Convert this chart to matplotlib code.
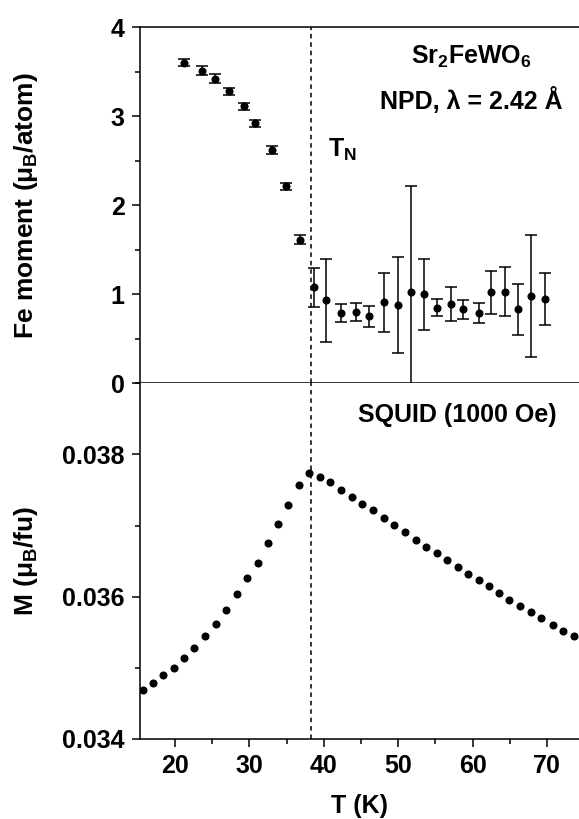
import matplotlib
matplotlib.use('Agg')
import matplotlib.pyplot as plt
from matplotlib.ticker import MultipleLocator

plt.rcParams['font.family'] = ['Liberation Sans', 'DejaVu Sans']
plt.rcParams['font.weight'] = 'bold'
plt.rcParams['axes.labelweight'] = 'bold'
plt.rcParams['mathtext.fontset'] = 'custom'
plt.rcParams['mathtext.rm'] = 'Liberation Sans:bold'
plt.rcParams['mathtext.it'] = 'Liberation Sans:bold'
plt.rcParams['mathtext.bf'] = 'Liberation Sans:bold'

# NPD refined Fe moment
T_npd = [21.25, 23.6, 25.4, 27.3, 29.3, 30.75, 33.0, 34.9, 36.8,
         38.7, 40.3, 42.3, 44.3, 46.1, 48.1, 50.0, 51.7, 53.5, 55.2,
         57.05, 58.7, 60.8, 62.5, 64.4, 66.1, 67.8, 69.7]
moment = [3.60, 3.51, 3.42, 3.28, 3.11, 2.92, 2.62, 2.21, 1.61,
          1.08, 0.93, 0.79, 0.80, 0.75, 0.91, 0.88, 1.02, 1.00, 0.85,
          0.89, 0.83, 0.79, 1.02, 1.03, 0.83, 0.98, 0.95]
moment_err = [0.04, 0.05, 0.05, 0.04, 0.04, 0.04, 0.04, 0.04, 0.05,
              0.22, 0.47, 0.10, 0.10, 0.12, 0.33, 0.54, 1.20, 0.40, 0.10,
              0.19, 0.11, 0.11, 0.24, 0.28, 0.29, 0.69, 0.29]

# SQUID magnetisation
T_squid = [15.66, 17.0, 18.43, 19.87, 21.25, 22.6, 24.1, 25.5, 26.9, 28.3,
           29.7, 31.2, 32.5, 33.9, 35.2, 36.7, 38.05, 39.5, 40.8, 42.3,
           43.8, 45.2, 46.65, 48.1, 49.5, 50.9, 52.4, 53.7, 55.2, 56.6,
           58.1, 59.4, 60.9, 62.2, 63.5, 64.9, 66.4, 67.8, 69.2, 70.8,
           72.2, 73.6]
M_squid = [0.034695, 0.034787, 0.034895, 0.035003, 0.035137, 0.035283,
           0.035445, 0.035618, 0.035814, 0.036038, 0.036262, 0.036480,
           0.036751, 0.037017, 0.037296, 0.037576, 0.037734, 0.037688,
           0.037608, 0.037506, 0.037403, 0.037305, 0.037212, 0.037100,
           0.037007, 0.036909, 0.036801, 0.036703, 0.036611, 0.036513,
           0.036424, 0.036317, 0.036233, 0.036144, 0.036046, 0.035958,
           0.035864, 0.035780, 0.035697, 0.035604, 0.035524, 0.035445]

T_N = 38.3

fig = plt.figure(figsize=(5.79, 8.19), dpi=100)
ax1 = fig.add_axes([0.2418, 0.532, 0.7582, 0.435])
ax2 = fig.add_axes([0.2418, 0.0977, 0.7582, 0.4343], sharex=ax1)

ax1.errorbar(T_npd, moment, yerr=moment_err, fmt='o', color='black',
             ms=4.8, capsize=4.5, elinewidth=1.1, capthick=1.1)
ax2.plot(T_squid, M_squid, 'o', color='black', ms=4.8)

for ax in (ax1, ax2):
    ax.axvline(T_N, color='black', ls=(0, (3, 2.5)), lw=1.1)
    ax.spines['right'].set_visible(False)
    for s in ('left', 'top', 'bottom'):
        ax.spines[s].set_linewidth(1.1)
    ax.tick_params(which='major', direction='out', length=6, width=1.1,
                   labelsize=18, pad=5)
    ax.tick_params(which='minor', direction='out', length=3.5, width=1.1)

ax1.set_xlim(15.3, 74.3)
ax1.set_ylim(0, 4)
ax1.yaxis.set_major_locator(MultipleLocator(1))
ax1.yaxis.set_minor_locator(MultipleLocator(0.5))
ax1.tick_params(axis='x', which='both', bottom=False, labelbottom=False)

ax2.set_ylim(0.034, 0.039)
ax2.yaxis.set_major_locator(MultipleLocator(0.002))
ax2.yaxis.set_minor_locator(MultipleLocator(0.001))
ax2.xaxis.set_major_locator(MultipleLocator(10))
ax2.xaxis.set_minor_locator(MultipleLocator(5))
ax2.spines['top'].set_visible(False)

ax1.set_ylabel(r'Fe moment ($\mu_B$/atom)', fontsize=19)
ax2.set_ylabel(r'M ($\mu_B$/fu)', fontsize=19)
ax2.set_xlabel('T (K)', fontsize=18)
ax1.yaxis.set_label_coords(-0.228, 0.5)
ax2.yaxis.set_label_coords(-0.228, 0.5)
ax2.xaxis.set_label_coords(0.5, -0.155)

ax1.text(59.8, 3.66, r'Sr$_2$FeWO$_6$', fontsize=18, ha='center', va='center')
ax1.text(59.8, 3.18, 'NPD, λ = 2.42 Å', fontsize=18, ha='center', va='center')
ax1.text(40.6, 2.62, r'T$_N$', fontsize=18, ha='left', va='center')
ax2.text(57.9, 0.03856, 'SQUID (1000 Oe)', fontsize=18, ha='center', va='center')

fig.savefig('out.png', dpi=100)
